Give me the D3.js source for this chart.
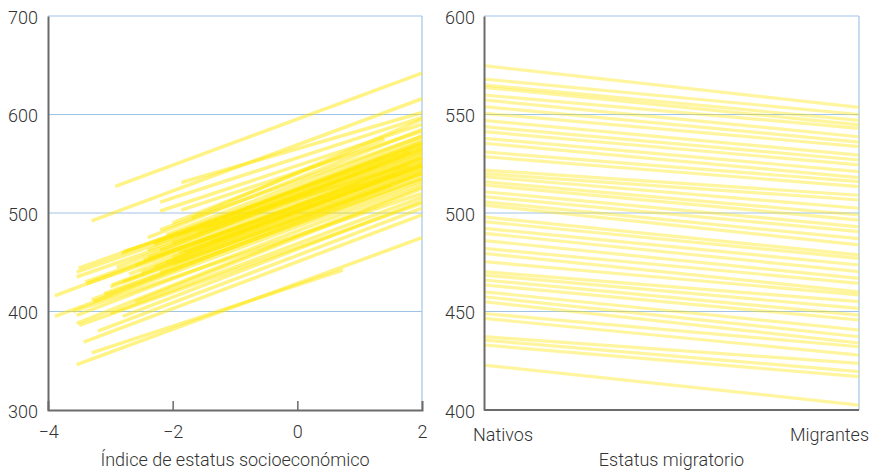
<!DOCTYPE html>
<html><head><meta charset="utf-8">
<script src="https://cdn.jsdelivr.net/npm/d3@7"></script>
<style>
body{margin:0;background:#fff}
text{font-family:Roboto,'Liberation Sans',sans-serif;font-weight:300;fill:#333}
</style>
</head><body><svg id="c" width="872" height="470"></svg>
<script>
// Left panel: each country's line, endpoints (ESCS, score)
const escsStart = [-2.92,-3.30,-1.86,-2.20,-2.20,-1.86,-2.20,-2.82,-3.51,-3.54,-3.54,-3.89,-2.79,-2.47,-3.38,-2.98,-3.27,-3.30,-3.89,-3.54,-3.54,-3.43,-3.30,-3.54,-3.50,-2.60,-2.40,-2.20,-2.00,-1.90,-2.50,-2.30,-2.10,-1.80,-1.60,-2.80,-3.00,-2.70,-1.50,-1.20,-2.40,-2.00,-3.10,-3.60,-3.00,-2.80,-3.20,-2.60,-2.90,-1.70,-2.30,-3.40,-2.00,-2.30,-2.10,-1.90,-2.40,-1.60,-2.20,-2.00,-1.40];
const escsEnd   = [2.00,2.00,2.00,2.00,2.00,2.00,2.00,2.00,2.00,2.00,2.00,2.00,2.00,2.00,2.00,2.00,2.00,2.00,2.00,2.00,2.00,2.00,0.73,2.00,2.00,2.00,2.00,2.00,2.00,2.00,2.00,2.00,1.60,1.80,2.00,2.00,1.50,2.00,2.00,2.00,2.00,1.40,2.00,2.00,2.00,2.00,2.00,2.00,1.30,2.00,2.00,1.00,2.00,2.00,2.00,2.00,1.80,2.00,2.00,2.00,2.00];
const scoreStart = [527,492,531,511,502,503,483,459,444,440,435,416,461,452,428,427,410,412,395,396,388,369,358,346,386,447,455,462,470,478,440,445,450,460,470,430,425,438,485,495,475,490,418,400,398,395,380,410,445,495,468,430,455,470,478,460,462,480,440,448,470];
const scoreEnd   = [642,616,602,597,590,583,578,572,568,562,558,556,553,549,546,543,540,536,533,530,527,498,442,475,510,556,560,565,562,570,545,548,540,548,552,540,528,551,566,572,585,575,535,520,516,512,505,525,548,595,575,530,548,570,578,556,562,565,540,542,548];

// Right panel: mean score for natives and migrants
const nativos   = [574.8,568,565,563.8,559.9,557.4,554,550.6,547,543.8,541.3,537.9,535.4,531,528.6,521.8,520,518.4,515.9,514.2,510.8,508.3,505.7,504,498,495.6,492.2,489.7,486,482,479.5,475.3,470.2,468.5,466,463.5,460,457.5,455,449,446.5,437.2,435.5,433,422.8];
const migrantes = [553.6,550,547,544.7,543,538.7,536,533.7,529.4,526.9,524.4,521,518,515.9,513.4,509,506.6,502.4,499,496.4,493,490.5,487,483.8,478.7,477,473.6,470.2,466.8,464.3,460,458.4,455,451.6,448.2,445.7,440.6,437.2,434,432.1,427.9,423.7,419.5,416.9,402.5];

const categories = ["Nativos","Migrantes"];
const xTicksLeft = [-4,-2,0,2];
const yTicksLeft = [300,400,500,600,700];
const yTicksRight = [400,450,500,550,600];
const xTitleLeft = "Índice de estatus socioeconómico";
const xTitleRight = "Estatus migratorio";

const svg = d3.select("#c");
const plotTop = 16, plotBottom = 410;
const gridColor = "#9fc4e6", axisColor = "#6b6b6b";
const lineColor = "#ffe600";

function panel(x0, x1, ys, yTicks){
  const g = svg.append("g");
  g.selectAll(".grid").data(yTicks.slice(1)).join("line")
    .attr("x1", x0).attr("x2", x1)
    .attr("y1", d=>ys(d)).attr("y2", d=>ys(d))
    .attr("stroke", gridColor).attr("stroke-width", 1.2);
  g.append("line").attr("x1", x1).attr("x2", x1).attr("y1", plotTop).attr("y2", plotBottom)
    .attr("stroke", gridColor).attr("stroke-width", 1.2);
  return g;
}

// Left panel
const xL = d3.scaleLinear().domain([-4,2]).range([48,422]);
const yL = d3.scaleLinear().domain([300,700]).range([plotBottom,plotTop]);
const gL = panel(48,422,yL,yTicksLeft);
const leftData = escsStart.map((d,i)=>({x1:d,x2:escsEnd[i],y1:scoreStart[i],y2:scoreEnd[i]}));
gL.append("g").selectAll("line").data(leftData).join("line")
  .attr("x1",d=>xL(d.x1)).attr("x2",d=>xL(d.x2))
  .attr("y1",d=>yL(d.y1)).attr("y2",d=>yL(d.y2))
  .attr("stroke",lineColor).attr("stroke-opacity",0.48).attr("stroke-width",3.5);

const axL = gL.append("g").attr("transform","translate(48,0)")
  .call(d3.axisLeft(yL).tickValues(yTicksLeft).tickSize(0).tickPadding(10));
axL.select(".domain").attr("stroke",axisColor).attr("stroke-width",2);
axL.selectAll("text").style("font-size","18px").attr("dy","0.4em");
const axB = gL.append("g").attr("transform",`translate(0,${plotBottom})`)
  .call(d3.axisBottom(xL).tickValues(xTicksLeft).tickFormat(d3.format("d")).tickSize(-9).tickPadding(15));
axB.select(".domain").attr("stroke",axisColor).attr("stroke-width",2);
axB.selectAll(".tick line").attr("stroke",axisColor).attr("stroke-width",1.5)
  .attr("display",(d)=> (d===-4||d===2)?"none":null);
axB.selectAll("text").style("font-size","18px");
gL.append("text").attr("x",(48+422)/2).attr("y",466).attr("text-anchor","middle")
  .style("font-size","18px").text(xTitleLeft);

// Right panel
const xR = d3.scaleLinear().domain([0,1]).range([484,859]);
const yR = d3.scaleLinear().domain([400,600]).range([plotBottom,plotTop]);
const gR = panel(484,859,yR,yTicksRight);
const rightData = nativos.map((d,i)=>({a:d,b:migrantes[i]}));
gR.append("g").selectAll("line").data(rightData).join("line")
  .attr("x1",xR(0)).attr("x2",xR(1))
  .attr("y1",d=>yR(d.a)).attr("y2",d=>yR(d.b))
  .attr("stroke",lineColor).attr("stroke-opacity",0.38).attr("stroke-width",3.2);
const axR = gR.append("g").attr("transform","translate(484,0)")
  .call(d3.axisLeft(yR).tickValues(yTicksRight).tickSize(0).tickPadding(9));
axR.select(".domain").attr("stroke",axisColor).attr("stroke-width",2);
axR.selectAll("text").style("font-size","18px").attr("dy","0.4em");
gR.append("line").attr("x1",484).attr("x2",859).attr("y1",plotBottom).attr("y2",plotBottom)
  .attr("stroke",axisColor).attr("stroke-width",2);
gR.selectAll(".cat").data(categories).join("text").attr("class","cat")
  .attr("x",(d,i)=> i===0 ? xR(0)-11 : xR(1)+10)
  .attr("y",441)
  .attr("text-anchor",(d,i)=> i===0 ? "start":"end")
  .style("font-size","18px").text(d=>d);
gR.append("text").attr("x",(484+859)/2).attr("y",466).attr("text-anchor","middle")
  .style("font-size","18px").text(xTitleRight);
</script>
</body></html>
